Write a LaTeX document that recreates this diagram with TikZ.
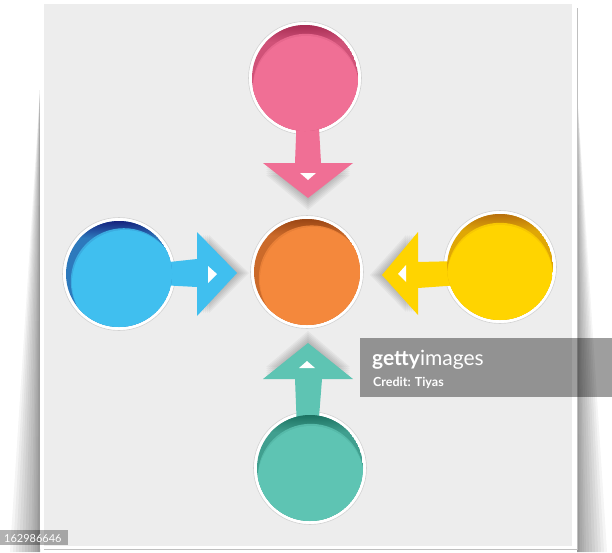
\documentclass[tikz,border=0pt]{standalone}
\usepackage{fontspec}
\newfontfamily\lato{Lato}
\usetikzlibrary{calc}
\definecolor{panelgrey}{HTML}{EDEDED}
\definecolor{ringgrey}{HTML}{D2D2D2}
\definecolor{pinkmain}{HTML}{F06F95}
\definecolor{pinkdark}{HTML}{A82E55}
\definecolor{orangemain}{HTML}{F4883C}
\definecolor{orangedark}{HTML}{9A4614}
\definecolor{bluemain}{HTML}{40BFEF}
\definecolor{bluedark}{HTML}{16237E}
\definecolor{yellowmain}{HTML}{FFD400}
\definecolor{yellowdark}{HTML}{B8700E}
\definecolor{greenmain}{HTML}{5EC4B3}
\definecolor{greendark}{HTML}{1C7262}
\tikzset{
  holering/.style={fill=white, draw=ringgrey, line width=0.6pt},
  arrowtri/.style={fill=white},
  shadowlayer/.style={fill=black, fill opacity=0.04},
  wmbox/.style={fill=black, fill opacity=0.38},
  wmtext/.style={text=white, inner sep=0pt, anchor=base west},
}
\newcommand\holering[1]{\path[holering] (#1) circle (56.5pt);}
\newcommand\holefill[5]{% center, main, dark, shift x, shift y
  \begin{scope}
    \clip (#1) circle (53pt);
    \fill[#2!55!#3] (#1) circle (53pt);
    \shade[top color=#3, bottom color=#2!55!#3] ($(#1)+(-53,-53)$) rectangle ($(#1)+(53,-36)$);
    \fill[#2!88!#3] ($(#1)+(#4*0.8,#5*0.8)$) circle (53pt);
    \fill[#2] ($(#1)+(#4,#5)$) circle (53pt);
  \end{scope}}
\begin{document}
\begin{tikzpicture}[x=1pt,y=-1pt]
\useasboundingbox (0,0) rectangle (612,552);
\fill[white] (0,0) rectangle (612,552);
% side shadows of the sheet
\foreach \w in {30,27,24,21,18,15,12,9,7,5,3,2}{
  \fill[shadowlayer] (40,90) -- (40,552) -- (40-\w,552) -- cycle;
  \fill[shadowlayer] (577,90) -- (577,552) -- (577+\w,552) -- cycle;
}
% sheet
\fill[white] (40,3) rectangle (577,549);
\draw[black!25, line width=0.5pt] (577.5,8) -- (577.5,549.5) -- (44,549.5);
\fill[panelgrey] (44,4) rectangle (572,546);
% circle centres
\coordinate (pinkc) at (305,78);
\coordinate (orangec) at (307,272);
\coordinate (bluec) at (119,274);
\coordinate (yellowc) at (500,267);
\coordinate (greenc) at (310,468);
% rings
\holering{pinkc}
\holering{orangec}
\holering{bluec}
\holering{yellowc}
\holering{greenc}
% arrowhead shadows
\foreach \s in {2,4,6,8,10,12}{
  \fill[shadowlayer] (266,163+\s) -- (308,198+\s) -- (350,163+\s) -- cycle;
  \fill[shadowlayer] (266,379-\s) -- (308,343-\s) -- (350,379-\s) -- cycle;
  \fill[shadowlayer] (197+\s,235) -- (237+\s,273) -- (197+\s,313) -- cycle;
  \fill[shadowlayer] (418-\s,235) -- (382-\s,275) -- (418-\s,312) -- cycle;
}
% arrows
\fill[pinkmain] (297,110) -- (295,163) -- (263,163) -- (308,198) -- (353,163) -- (321,163) -- (318,110) -- cycle;
\fill[arrowtri] (300,173) -- (316,173) -- (308,180) -- cycle;
\fill[greenmain] (297,430) -- (295,379) -- (263,379) -- (308,343) -- (353,379) -- (322,379) -- (318,430) -- cycle;
\fill[arrowtri] (299,368) -- (315,368) -- (307,361) -- cycle;
\fill[bluemain] (160,263) -- (197,259) -- (197,232) -- (237,273) -- (197,316) -- (197,287) -- (160,285) -- cycle;
\fill[arrowtri] (208,266) -- (208,283) -- (217,274) -- cycle;
\fill[yellowmain] (460,261) -- (418,262) -- (418,232) -- (382,275) -- (418,315) -- (418,288) -- (460,285) -- cycle;
\fill[arrowtri] (406,265) -- (406,282) -- (398,274) -- cycle;
% coloured holes
\holefill{pinkc}{pinkmain}{pinkdark}{1}{11}
\holefill{orangec}{orangemain}{orangedark}{6}{8}
\holefill{bluec}{bluemain}{bluedark}{6}{9}
\holefill{yellowc}{yellowmain}{yellowdark}{0}{11}
\holefill{greenc}{greenmain}{greendark}{1}{11}
% watermark
\fill[wmbox] (360,338) rectangle (612,397);
\node[wmtext, font=\lato\fontsize{21}{21}\selectfont] (gettyword) at (372,365) {\textbf{getty}images};
\node[wmtext, font=\lato\bfseries\fontsize{12.5}{13}\selectfont] (credit) at (373,386) {Credit: Tiyas};
\fill[black, fill opacity=0.3] (0,530) rectangle (68,545);
\node[wmtext, font=\lato\fontsize{11}{11}\selectfont] (idnum) at (4,542) {162986646};
\end{tikzpicture}
\end{document}
